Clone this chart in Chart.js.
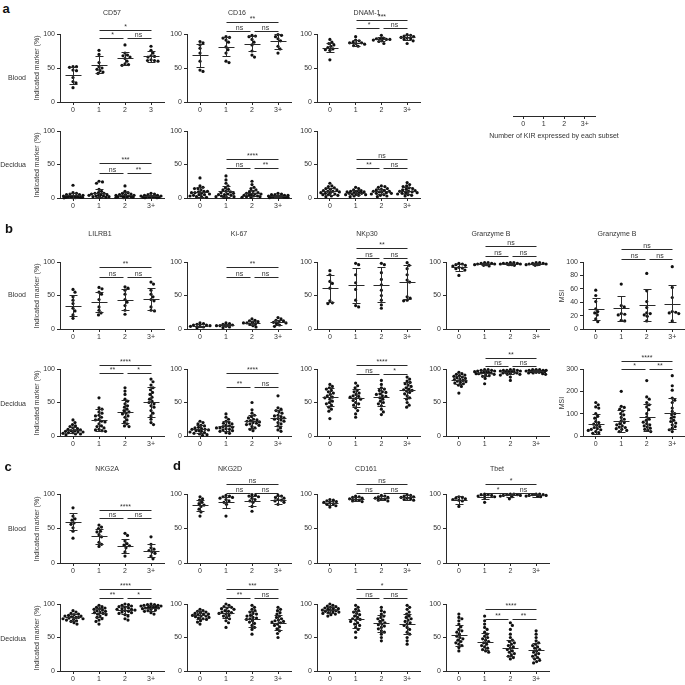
<!DOCTYPE html>
<html>
<head>
<meta charset="utf-8">
<script src="https://cdn.jsdelivr.net/npm/chart.js@4.4.1/dist/chart.umd.min.js"></script>
<style>
  body { margin: 0; background: #fff; width: 685px; height: 685px; position: relative; overflow: hidden;
         font-family: "Liberation Sans", Arial, sans-serif; color: #333; }
  canvas { position: absolute; }
  .t { position: absolute; font-size: 7px; line-height: 1; white-space: nowrap; transform: translate(-50%, -50%); }
  .r { position: absolute; font-size: 7px; line-height: 1; white-space: nowrap; transform: translate(-100%, -50%); }
  .yt { position: absolute; font-size: 7px; line-height: 1; white-space: nowrap; transform: translate(-50%, -50%) rotate(-90deg); }
  .lt { position: absolute; font-size: 13px; font-weight: bold; line-height: 1; color: #111; transform: translate(-50%, -50%); }
</style>
</head>
<body>
<script>
// x categories
const kirLabels = ["0", "1", "2", "3+"];
const kirLabels3 = ["0", "1", "2", "3"];

// ---- a: blood ----
const cd57Blood = [[52, 52, 51, 47, 46, 36, 30, 28, 21], [76, 70, 58, 52, 50, 48, 46, 44, 42], [84, 72, 69, 68, 66, 64, 60, 56, 55, 54], [82, 76, 72, 68, 67, 66, 62, 61, 60, 61]];
const cd57BloodMean = [39, 55, 64, 67], cd57BloodSd = [12, 12, 10, 8];
const cd57BloodSig = ["*", "*", "ns"];
const cd16Blood = [[89, 87, 84, 79, 72, 60, 47, 45], [96, 95, 94, 91, 88, 81, 77, 72, 60, 58], [98, 97, 96, 92, 88, 84, 75, 69, 66], [99, 98, 96, 93, 90, 82, 78, 72]];
const cd16BloodMean = [69, 81, 86, 89], cd16BloodSd = [17, 14, 11, 11];
const cd16BloodSig = ["**", "ns", "ns"];
const dnamBlood = [[92, 88, 86, 84, 82, 80, 78, 77, 76, 62], [96, 91, 90, 88, 87, 87, 86, 85, 83, 82], [98, 94, 93, 93, 92, 92, 91, 90, 89, 86], [99, 98, 97, 96, 95, 94, 93, 92, 90, 86]];
const dnamBloodMean = [80, 87, 92, 95], dnamBloodSd = [7, 4, 3, 4];
const dnamBloodSig = ["***", "*", "ns"];

// ---- a: decidua ----
const cd57Dec = [[19, 8, 7, 6, 5, 5, 4, 3, 3, 3, 2, 2, 2, 1, 1, 1, 1, 0.5, 0.5, 0.3], [25, 24, 22, 13, 10, 8, 7, 7, 6, 5, 5, 4, 4, 3, 3, 2, 2, 1, 1], [18, 10, 8, 7, 6, 5, 5, 4, 4, 3, 3, 3, 2, 2, 2, 1, 1, 1, 0.5], [7, 6, 5, 4, 4, 3, 3, 3, 2, 2, 2, 2, 1, 1, 1, 1, 0.5, 0.5]];
const cd57DecMean = [4, 7.5, 4.5, 2.5], cd57DecSd = [4, 6, 4, 2];
const cd57DecSig = ["***", "ns", "**"];
const cd16Dec = [[30, 18, 16, 14, 14, 12, 10, 10, 9, 8, 8, 7, 6, 5, 5, 4, 3, 2, 2, 1], [33, 27, 22, 18, 15, 13, 12, 10, 9, 8, 7, 6, 5, 5, 4, 3, 2, 2, 1, 1], [25, 20, 16, 14, 12, 10, 9, 8, 7, 6, 6, 5, 4, 4, 3, 3, 2, 2, 1, 1], [7, 6, 5, 5, 4, 4, 3, 3, 3, 2, 2, 2, 2, 1, 1, 1, 1, 0.5]];
const cd16DecMean = [9, 10, 7.5, 3], cd16DecSd = [7, 8, 5, 2];
const cd16DecSig = ["****", "ns", "**"];
const dnamDec = [[22, 18, 17, 15, 14, 13, 12, 11, 10, 10, 9, 8, 8, 7, 6, 5, 5, 4, 3, 2], [16, 14, 12, 11, 10, 10, 9, 9, 8, 8, 7, 7, 6, 6, 5, 5, 4, 3, 2], [18, 17, 16, 14, 13, 12, 11, 10, 10, 9, 9, 8, 7, 7, 6, 5, 4, 3, 2], [23, 20, 18, 17, 15, 14, 13, 12, 11, 10, 10, 9, 8, 8, 7, 6, 5, 4, 3]];
const dnamDecMean = [10, 8, 10, 11], dnamDecSd = [5, 4, 4, 5];
const dnamDecSig = ["ns", "**", "ns"];

// ---- b: blood ----
const lilrBlood = [[59, 55, 48, 43, 38, 31, 27, 21, 16], [62, 60, 55, 52, 44, 33, 28, 24, 21], [63, 61, 58, 52, 44, 40, 35, 28, 22], [70, 67, 58, 52, 48, 44, 42, 33, 28, 27]];
const lilrBloodMean = [35, 40, 44, 45], lilrBloodSd = [16, 15, 15, 16];
const lilrBloodSig = ["**", "ns", "ns"];
const ki67Blood = [[9, 8, 7, 6, 6, 5, 4, 4, 3, 2], [9, 8, 7, 6, 5, 5, 4, 3, 2], [15, 13, 12, 11, 10, 9, 9, 8, 7, 5, 3], [17, 15, 13, 12, 11, 10, 9, 8, 6, 4]];
const ki67BloodMean = [5, 6, 9, 10], ki67BloodSd = [2, 2, 3, 4];
const ki67BloodSig = ["**", "ns", "ns"];
const nkp30Blood = [[87, 81, 71, 68, 61, 42, 39, 38], [98, 96, 81, 69, 59, 43, 35, 33], [98, 96, 84, 74, 66, 58, 50, 43, 36, 31], [99, 95, 90, 81, 73, 70, 48, 46, 43, 42]];
const nkp30BloodMean = [61, 65, 66, 70], nkp30BloodSd = [20, 26, 26, 25];
const nkp30BloodSig = ["**", "ns", "ns"];
const gzmBlood = [[98, 97, 96, 95, 94, 92, 91, 90, 88, 80], [99, 99, 98, 98, 97, 97, 96, 96, 95, 94], [99, 99, 98, 98, 98, 97, 97, 96, 96, 95], [99, 99, 98, 98, 97, 97, 96, 96, 95]];
const gzmBloodMean = [92, 97, 97, 97], gzmBloodSd = [5, 2, 2, 2];
const gzmBloodSig = ["ns", "ns", "ns"];
const gzmMsiBlood = [[58, 50, 41, 30, 26, 24, 21, 15, 11], [67, 35, 33, 23, 22, 21, 13, 12], [83, 57, 41, 32, 24, 23, 21, 19, 12], [93, 62, 47, 26, 25, 24, 23, 12]];
const gzmMsiBloodMean = [30, 31, 36, 38], gzmMsiBloodSd = [16, 19, 24, 27];
const gzmMsiBloodSig = ["ns", "ns", "ns"];

// ---- b: decidua ----
const lilrDec = [[24, 20, 17, 15, 14, 12, 11, 10, 9, 8, 8, 7, 6, 6, 5, 5, 4, 3, 3, 2], [57, 42, 40, 36, 34, 31, 30, 28, 25, 24, 22, 21, 18, 15, 14, 12, 10, 9, 8, 7], [72, 67, 62, 55, 52, 48, 45, 43, 40, 38, 36, 34, 33, 30, 28, 24, 21, 18, 15, 14], [85, 81, 76, 72, 69, 65, 62, 58, 55, 52, 50, 48, 45, 43, 38, 34, 30, 25, 20, 17]];
const lilrDecMean = [9, 24, 36, 51], lilrDecSd = [5, 16, 17, 22];
const lilrDecSig = ["****", "**", "*"];
const ki67Dec = [[22, 20, 18, 16, 15, 13, 12, 11, 10, 10, 9, 8, 8, 7, 6, 5, 4, 3, 2, 1], [33, 28, 25, 22, 20, 19, 18, 16, 15, 14, 13, 12, 12, 11, 10, 9, 8, 7, 5, 4], [50, 39, 34, 31, 29, 27, 25, 24, 23, 22, 21, 20, 19, 18, 17, 16, 14, 12, 10, 8], [60, 42, 40, 38, 36, 34, 31, 30, 29, 27, 26, 25, 24, 22, 20, 18, 15, 12, 9, 7]];
const ki67DecMean = [10, 15, 22, 27], ki67DecSd = [6, 7, 10, 12];
const ki67DecSig = ["****", "**", "ns"];
const nkp30Dec = [[77, 74, 72, 70, 68, 66, 64, 62, 60, 58, 57, 55, 52, 50, 48, 46, 43, 40, 37, 26], [79, 75, 72, 68, 66, 64, 62, 60, 59, 58, 56, 55, 53, 50, 48, 46, 42, 38, 33, 28], [83, 77, 72, 70, 68, 66, 65, 63, 62, 60, 59, 57, 55, 52, 50, 48, 45, 40, 36, 32], [88, 85, 82, 80, 78, 76, 74, 72, 70, 69, 68, 67, 65, 63, 60, 57, 55, 50, 46, 43]];
const nkp30DecMean = [58, 57, 58, 68], nkp30DecSd = [13, 13, 13, 12];
const nkp30DecSig = ["****", "ns", "*"];
const gzmDec = [[95, 93, 92, 91, 90, 89, 88, 87, 86, 85, 84, 83, 82, 81, 80, 79, 78, 76, 74, 64], [99, 99, 98, 98, 97, 97, 96, 96, 95, 95, 94, 94, 93, 93, 92, 91, 90, 89, 86, 78], [99, 99, 98, 98, 98, 97, 97, 96, 96, 95, 95, 94, 94, 93, 92, 92, 91, 88, 83], [99, 99, 99, 98, 98, 98, 97, 97, 97, 96, 96, 96, 95, 95, 94, 94, 93, 92]];
const gzmDecMean = [84, 94, 95, 97], gzmDecSd = [6, 4, 3, 2];
const gzmDecSig = ["**", "ns", "ns"];
const gzmMsiDec = [[150, 140, 130, 125, 100, 88, 80, 65, 60, 53, 48, 42, 38, 33, 30, 28, 25, 20, 15, 12], [200, 133, 128, 120, 112, 100, 95, 83, 75, 68, 60, 55, 50, 45, 40, 38, 33, 30, 25, 20], [248, 175, 165, 150, 140, 130, 118, 100, 85, 75, 70, 62, 55, 50, 45, 40, 35, 30, 25, 20], [270, 225, 205, 170, 160, 150, 125, 110, 100, 95, 85, 80, 70, 65, 58, 50, 42, 35, 28, 20]];
const gzmMsiDecMean = [55, 68, 84, 102], gzmMsiDecSd = [45, 50, 60, 70];
const gzmMsiDecSig = ["****", "*", "**"];

// ---- c/d: blood ----
const nkg2aBlood = [[80, 68, 64, 62, 58, 56, 51, 46, 36], [55, 52, 50, 46, 45, 41, 38, 30, 27, 24], [43, 40, 32, 28, 26, 25, 22, 16, 10], [38, 27, 22, 20, 18, 16, 14, 10, 6]];
const nkg2aBloodMean = [60, 39, 25, 18], nkg2aBloodSd = [12, 11, 10, 10];
const nkg2aBloodSig = ["****", "ns", "ns"];
const nkg2dBlood = [[96, 93, 91, 88, 86, 84, 82, 78, 74, 68], [98, 97, 96, 95, 94, 92, 90, 88, 85, 68], [99, 98, 97, 96, 94, 92, 90, 88, 82, 75], [98, 97, 95, 94, 92, 91, 90, 88, 85]];
const nkg2dBloodMean = [84, 88, 90, 91], nkg2dBloodSd = [8, 8, 7, 6];
const nkg2dBloodSig = ["ns", "ns", "ns"];
const cd161Blood = [[92, 91, 90, 89, 88, 87, 86, 85, 83, 81], [97, 96, 95, 94, 93, 92, 91, 90, 89], [98, 97, 96, 95, 94, 93, 92, 91, 90], [99, 98, 97, 96, 95, 94, 93, 92, 91]];
const cd161BloodMean = [87, 93, 94, 95], cd161BloodSd = [3, 3, 3, 3];
const cd161BloodSig = ["ns", "ns", "ns"];
const tbetBlood = [[96, 95, 94, 93, 92, 91, 90, 82], [100, 99, 99, 98, 97, 96, 95, 88], [100, 100, 99, 99, 98, 98, 97, 96, 93], [100, 100, 99, 99, 98, 98, 97, 97, 96]];
const tbetBloodMean = [91, 96, 98, 98], tbetBloodSd = [6, 3, 2, 2];
const tbetBloodSig = ["*", "*", "ns"];

// ---- c/d: decidua ----
const nkg2aDec = [[90, 88, 86, 85, 84, 83, 82, 82, 81, 80, 80, 79, 78, 78, 77, 76, 75, 74, 72, 70], [98, 96, 95, 94, 93, 92, 91, 90, 89, 88, 87, 86, 85, 84, 82, 80, 78, 76, 74, 70], [100, 99, 98, 97, 96, 95, 94, 93, 92, 92, 91, 90, 89, 88, 87, 86, 84, 82, 78, 76], [100, 99, 99, 98, 98, 97, 97, 96, 96, 95, 95, 94, 94, 93, 92, 91, 90, 89, 87, 85]];
const nkg2aDecMean = [80, 87, 91, 94], nkg2aDecSd = [5, 7, 6, 4];
const nkg2aDecSig = ["****", "**", "*"];
const nkg2dDec = [[92, 90, 89, 88, 87, 86, 85, 85, 84, 83, 82, 82, 81, 80, 79, 78, 77, 75, 73, 70], [100, 98, 96, 95, 94, 93, 92, 90, 89, 88, 87, 86, 85, 83, 82, 80, 78, 75, 72, 65], [98, 95, 92, 90, 88, 86, 85, 83, 82, 80, 79, 78, 77, 75, 73, 71, 68, 65, 62, 55], [95, 92, 90, 87, 85, 82, 80, 78, 76, 75, 74, 73, 72, 70, 68, 66, 63, 60, 56, 50]];
const nkg2dDecMean = [84, 87, 78, 72], nkg2dDecSd = [6, 8, 12, 11];
const nkg2dDecSig = ["***", "**", "ns"];
const cd161Dec = [[100, 98, 97, 96, 95, 94, 93, 93, 92, 91, 91, 90, 89, 88, 88, 87, 86, 85, 84, 82], [98, 95, 92, 90, 88, 86, 84, 82, 80, 78, 77, 76, 74, 72, 70, 68, 65, 62, 58, 50], [95, 90, 88, 85, 82, 80, 78, 76, 74, 72, 70, 69, 67, 65, 63, 60, 58, 55, 50, 45], [98, 95, 92, 88, 85, 82, 80, 78, 76, 74, 72, 70, 68, 65, 62, 58, 55, 50, 45, 40]];
const cd161DecMean = [91, 77, 71, 70], cd161DecSd = [5, 13, 13, 15];
const cd161DecSig = ["*", "ns", "ns"];
const tbetDec = [[85, 80, 78, 75, 70, 66, 62, 60, 58, 55, 52, 50, 48, 46, 44, 42, 40, 38, 35, 30], [82, 75, 70, 65, 62, 58, 55, 52, 50, 48, 46, 44, 42, 40, 38, 36, 34, 32, 30, 28], [72, 68, 62, 55, 50, 46, 44, 42, 40, 38, 36, 34, 32, 30, 28, 26, 24, 22, 20, 18], [60, 55, 50, 45, 42, 40, 38, 36, 34, 32, 30, 28, 26, 24, 22, 20, 18, 16, 14, 12]];
const tbetDecMean = [53, 44, 35, 31], tbetDecSd = [15, 13, 12, 11];
const tbetDecSig = ["****", "**", "**"];

Chart.defaults.font.family = "'Liberation Sans', Arial, sans-serif";
Chart.defaults.font.size = 7;
Chart.defaults.color = "#333";

const YW = 22, XH = 14, PT = 34, PR = 4, PB = 2;
const INK = "#2a2a2a";

// spread points of one group sideways (beeswarm), at most maxW px each side
function swarm(vals, ppu, catW) {
  const placed = [];
  const off = new Array(vals.length).fill(0);
  const order = vals.map((v, i) => i).sort((a, b) => vals[b] - vals[a]);
  const d = 3.2, maxW = 10;
  order.forEach(i => {
    const y = vals[i] * ppu;
    let best = 0, bestD = -1;
    for (let k = 0; ; k++) {
      const c = (k % 2 ? 1 : -1) * Math.ceil(k / 2) * 0.5;
      if (Math.abs(c) > maxW) break;
      const md = Math.min(Infinity, ...placed.map(p => Math.hypot(p.x - c, p.y - y)));
      if (md >= d) { best = c; break; }
      if (md > bestD + 0.3) { bestD = md; best = c; }
    }
    placed.push({ x: best, y: y });
    off[i] = best / catW;
  });
  return off;
}

function statsPlugin(mean, sd, sig, brk) {
  return {
    id: "stats",
    afterDatasetsDraw(chart) {
      const ctx = chart.ctx, x = chart.scales.x, y = chart.scales.y;
      const px = v => Math.round(x.getPixelForValue(v)) + 0.5;
      const py = v => Math.round(y.getPixelForValue(v)) + 0.5;
      ctx.save();
      ctx.strokeStyle = INK;
      ctx.lineWidth = 1;
      ctx.beginPath();
      mean.forEach((m, i) => {
        const cx = px(i), ym = py(m), yh = py(m + sd[i]), yl = py(Math.max(0, m - sd[i]));
        ctx.moveTo(cx - 8, ym); ctx.lineTo(cx + 8, ym);
        ctx.moveTo(cx, yh); ctx.lineTo(cx, yl);
        ctx.moveTo(cx - 4, yh); ctx.lineTo(cx + 4, yh);
        ctx.moveTo(cx - 4, yl); ctx.lineTo(cx + 4, yl);
      });
      // significance brackets
      const yt = py(brk[0]), yb = py(brk[1]);
      ctx.moveTo(px(1), yt); ctx.lineTo(px(3), yt);
      ctx.moveTo(px(1), yb); ctx.lineTo(px(2) - 2, yb);
      ctx.moveTo(px(2) + 2, yb); ctx.lineTo(px(3), yb);
      ctx.stroke();
      ctx.fillStyle = "#333";
      ctx.font = "7px 'Liberation Sans', Arial, sans-serif";
      ctx.textAlign = "center";
      ctx.textBaseline = "alphabetic";
      ctx.fillText(sig[0], (px(1) + px(3)) / 2, yt - 1.5);
      ctx.fillText(sig[1], (px(1) + px(2)) / 2, yb - 1.5);
      ctx.fillText(sig[2], (px(2) + px(3)) / 2, yb - 1.5);
      ctx.restore();
    }
  };
}

function axisOpts() {
  return {
    grid: { drawOnChartArea: false, tickLength: 3, color: INK },
    border: { color: INK, width: 1 }
  };
}

function panel(col, row, W, groups, mean, sd, sig, brk, o) {
  o = o || {};
  const yMax = o.yMax || 100, yTicks = o.yTicks || [0, 50, 100], labels = o.labels || kirLabels;
  const yTop = row[0], yBot = row[1], H = yBot - yTop;
  const cv = document.createElement("canvas");
  cv.width = YW + W + PR;
  cv.height = PT + H + XH + PB;
  cv.style.left = (col - YW) + "px";
  cv.style.top = (yTop - PT) + "px";
  document.body.appendChild(cv);
  const ppu = H / yMax, catW = W / 4;
  const datasets = groups.map((vals, g) => {
    const off = swarm(vals, ppu, catW);
    return {
      data: vals.map((v, i) => ({ x: g + off[i], y: v })),
      pointRadius: 1.6, backgroundColor: "#111", borderWidth: 0, clip: false
    };
  });
  new Chart(cv, {
    type: "scatter",
    data: { datasets },
    options: {
      responsive: false, animation: false, events: [],
      layout: { padding: { top: PT, right: PR, bottom: PB, left: 0 } },
      plugins: { legend: { display: false }, tooltip: { enabled: false } },
      scales: {
        x: Object.assign(axisOpts(), {
          type: "linear", min: -0.5, max: 3.5,
          afterBuildTicks: s => { s.ticks = [0, 1, 2, 3].map(v => ({ value: v })); },
          afterFit: s => { s.height = XH; },
          ticks: { callback: v => labels[v], padding: 1, maxRotation: 0, autoSkip: false }
        }),
        y: Object.assign(axisOpts(), {
          min: 0, max: yMax,
          afterBuildTicks: s => { s.ticks = yTicks.map(v => ({ value: v })); },
          afterFit: s => { s.width = YW; },
          ticks: { padding: 2 }
        })
      }
    },
    plugins: [statsPlugin(mean, sd, sig, brk)]
  });
}

function txt(s, x, y, cls) {
  const d = document.createElement("div");
  d.className = cls || "t";
  d.textContent = s;
  d.style.left = x + "px";
  d.style.top = y + "px";
  document.body.appendChild(d);
}

// columns (y-axis x position) and rows ([pixel of top value, pixel of 0])
const c1 = 60, c2 = 187, c3 = 317, c4 = 446, c5 = 583;
const aB = [34, 102], aD = [131, 198], bB = [262, 329], bD = [369, 436], cB = [494, 563], cD = [604, 671];

panel(c1, aB, 104, cd57Blood, cd57BloodMean, cd57BloodSd, cd57BloodSig, [106, 94], { labels: kirLabels3 });
panel(c2, aB, 104, cd16Blood, cd16BloodMean, cd16BloodSd, cd16BloodSig, [118, 104]);
panel(c3, aB, 103, dnamBlood, dnamBloodMean, dnamBloodSd, dnamBloodSig, [120, 109]);
panel(c1, aD, 104, cd57Dec, cd57DecMean, cd57DecSd, cd57DecSig, [52, 38]);
panel(c2, aD, 104, cd16Dec, cd16DecMean, cd16DecSd, cd16DecSig, [58, 45]);
panel(c3, aD, 103, dnamDec, dnamDecMean, dnamDecSd, dnamDecSig, [58, 45]);

panel(c1, bB, 104, lilrBlood, lilrBloodMean, lilrBloodSd, lilrBloodSig, [92, 78]);
panel(c2, bB, 104, ki67Blood, ki67BloodMean, ki67BloodSd, ki67BloodSig, [92, 78]);
panel(c3, bB, 103, nkp30Blood, nkp30BloodMean, nkp30BloodSd, nkp30BloodSig, [121, 106]);
panel(c4, bB, 103, gzmBlood, gzmBloodMean, gzmBloodSd, gzmBloodSig, [124, 109]);
panel(c5, bB, 102, gzmMsiBlood, gzmMsiBloodMean, gzmMsiBloodSd, gzmMsiBloodSig, [120, 105], { yTicks: [0, 20, 40, 60, 80, 100] });
panel(c1, bD, 104, lilrDec, lilrDecMean, lilrDecSd, lilrDecSig, [106, 94]);
panel(c2, bD, 104, ki67Dec, ki67DecMean, ki67DecSd, ki67DecSig, [94, 73]);
panel(c3, bD, 103, nkp30Dec, nkp30DecMean, nkp30DecSd, nkp30DecSig, [106, 93]);
panel(c4, bD, 103, gzmDec, gzmDecMean, gzmDecSd, gzmDecSig, [117, 104]);
panel(c5, bD, 102, gzmMsiDec, gzmMsiDecMean, gzmMsiDecSd, gzmMsiDecSig, [334, 300], { yMax: 300, yTicks: [0, 100, 200, 300] });

panel(c1, cB, 104, nkg2aBlood, nkg2aBloodMean, nkg2aBloodSd, nkg2aBloodSig, [77, 65]);
panel(c2, cB, 104, nkg2dBlood, nkg2dBloodMean, nkg2dBloodSd, nkg2dBloodSig, [114, 101]);
panel(c3, cB, 103, cd161Blood, cd161BloodMean, cd161BloodSd, cd161BloodSig, [114, 101]);
panel(c4, cB, 103, tbetBlood, tbetBloodMean, tbetBloodSd, tbetBloodSig, [114, 101]);
panel(c1, cD, 104, nkg2aDec, nkg2aDecMean, nkg2aDecSd, nkg2aDecSig, [122, 109]);
panel(c2, cD, 104, nkg2dDec, nkg2dDecMean, nkg2dDecSd, nkg2dDecSig, [122, 109]);
panel(c3, cD, 103, cd161Dec, cd161DecMean, cd161DecSd, cd161DecSig, [122, 109]);
panel(c4, cD, 103, tbetDec, tbetDecMean, tbetDecSd, tbetDecSig, [93, 78]);

// key axis: number of KIR
(function () {
  const cv = document.createElement("canvas");
  cv.width = 86; cv.height = 30;
  cv.style.left = "513px"; cv.style.top = "102px";
  document.body.appendChild(cv);
  new Chart(cv, {
    type: "scatter",
    data: { datasets: [{ data: [] }] },
    options: {
      responsive: false, animation: false, events: [],
      layout: { padding: { top: 5, right: 4, bottom: 2, left: 0 } },
      plugins: { legend: { display: false }, tooltip: { enabled: false } },
      scales: {
        x: Object.assign(axisOpts(), {
          type: "linear", min: -0.5, max: 3.5,
          afterBuildTicks: s => { s.ticks = [0, 1, 2, 3].map(v => ({ value: v })); },
          afterFit: s => { s.height = 14; },
          ticks: { callback: v => kirLabels[v], padding: 1, maxRotation: 0, autoSkip: false }
        }),
        y: { display: false, min: 0, max: 1 }
      }
    }
  });
})();
txt("Number of KIR expressed by each subset", 554, 135);

// panel letters
txt("a", 6, 8, "lt"); txt("b", 9, 228, "lt"); txt("c", 8, 466, "lt"); txt("d", 177, 465, "lt");

// panel titles
txt("CD57", 112, 12); txt("CD16", 237, 12); txt("DNAM-1", 367, 12);
txt("LILRB1", 100, 233); txt("Ki-67", 239, 233); txt("NKp30", 367, 233); txt("Granzyme B", 491, 233); txt("Granzyme B", 617, 233);
txt("NKG2A", 107, 468); txt("NKG2D", 230, 468); txt("CD161", 366, 468); txt("Tbet", 497, 468);

// row labels
txt("Blood", 26, 77, "r"); txt("Decidua", 26, 164, "r");
txt("Blood", 26, 294, "r"); txt("Decidua", 26, 403, "r");
txt("Blood", 26, 528, "r"); txt("Decidua", 26, 638, "r");

// y titles
[68, 165, 296, 403, 529, 638].forEach(y => txt("Indicated marker (%)", 36, y, "yt"));
txt("MSI", 561, 296, "yt"); txt("MSI", 561, 403, "yt");
</script>
</body>
</html>
